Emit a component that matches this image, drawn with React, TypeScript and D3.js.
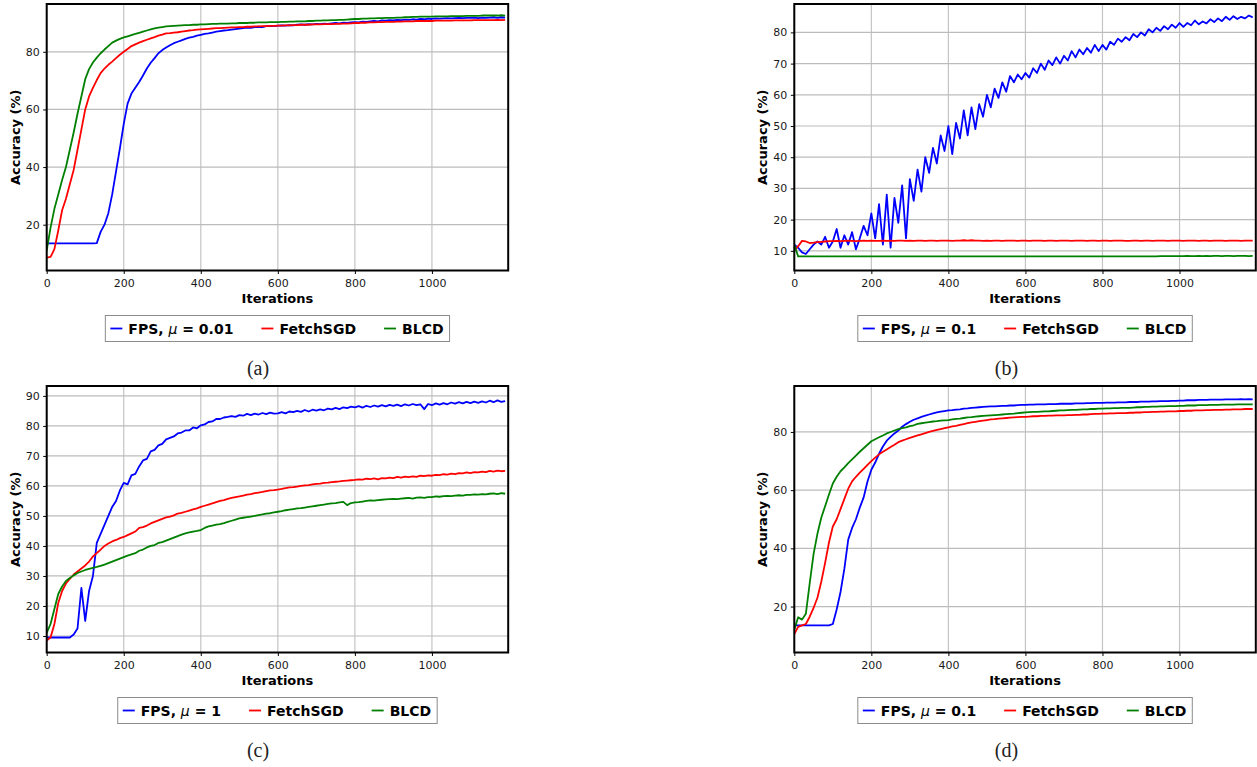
import React, { useEffect, useRef } from "react";
import * as d3 from "d3";

// one value every 10 iterations, starting at 0
const STEP = 10;
const X_TICKS = [0, 200, 400, 600, 800, 1000];

// (a) FPS mu = 0.01
const aFps = [
  13.5, 13.5, 13.5, 13.5, 13.5, 13.5, 13.5, 13.5, 13.5, 13.5,
  13.5, 13.5, 13.5, 13.6, 17.5, 20, 24, 30.5, 38.5, 46.5,
  55, 62, 65.5, 67.5, 69.5, 71.8, 74.2, 76.2, 77.8, 79.5,
  80.6, 81.5, 82.3, 83, 83.5, 84, 84.5, 84.9, 85.2, 85.6,
  85.9, 86.2, 86.4, 86.7, 87, 87.2, 87.4, 87.5, 87.7, 87.9,
  88.1, 88.2, 88.4, 88.3, 88.6, 88.7, 88.6, 88.9, 89, 88.9,
  89.1, 89.2, 89.1, 89.3, 89.2, 89.4, 89.5, 89.4, 89.6, 89.5,
  89.7, 89.6, 89.8, 89.7, 89.9, 90, 89.9, 90.1, 90, 90.2,
  90.3, 90.2, 90.5, 90.4, 90.6, 90.7, 90.6, 90.9, 90.8, 91,
  90.9, 91.1, 91, 91.2, 91.1, 91.3, 91.2, 91.4, 91.3, 91.5,
  91.4, 91.6, 91.5, 91.6, 91.7, 91.6, 91.7, 91.8, 91.7, 91.8,
  91.8, 91.9, 91.7, 91.9, 91.8, 91.9, 92, 91.8, 92, 91.9,
];
const aFetch = [
  8.6, 8.8, 11.5, 18, 25, 29, 34, 39, 46, 53,
  60, 64.5, 67.5, 70.2, 72.6, 74.2, 75.5, 76.6, 77.8, 79,
  80, 81, 82, 82.6, 83.2, 83.7, 84.2, 84.7, 85.1, 85.6,
  86, 86.4, 86.5, 86.7, 86.8, 87, 87.2, 87.4, 87.5, 87.7,
  87.8, 87.9, 88, 88.1, 88.2, 88.2, 88.3, 88.4, 88.5, 88.5,
  88.6, 88.6, 88.7, 88.7, 88.8, 88.8, 88.9, 88.9, 89, 89,
  89.1, 89.1, 89.2, 89.2, 89.3, 89.3, 89.4, 89.4, 89.4, 89.5,
  89.5, 89.5, 89.6, 89.6, 89.6, 89.7, 89.7, 89.8, 89.8, 89.9,
  90, 90, 90.1, 90.1, 90.2, 90.2, 90.3, 90.3, 90.4, 90.4,
  90.4, 90.5, 90.5, 90.6, 90.6, 90.6, 90.7, 90.7, 90.7, 90.7,
  90.7, 90.8, 90.8, 90.8, 90.8, 90.8, 90.9, 90.9, 90.9, 90.9,
  90.9, 91, 91, 91, 91, 91, 91, 91.1, 91, 91.1,
];
const aBlcd = [
  11, 19, 25.5, 30.5, 35.5, 40, 46, 52, 58.5, 64.5,
  70.5, 74, 76.3, 78, 79.5, 80.8, 82, 83.2, 83.9, 84.5,
  85, 85.4, 85.8, 86.2, 86.6, 87, 87.4, 87.8, 88.1, 88.4,
  88.6, 88.8, 88.9, 89, 89.1, 89.2, 89.3, 89.3, 89.4, 89.4,
  89.5, 89.5, 89.6, 89.7, 89.7, 89.8, 89.8, 89.8, 89.9, 89.9,
  90, 90, 90, 90.1, 90.1, 90.2, 90.2, 90.2, 90.3, 90.3,
  90.3, 90.4, 90.4, 90.5, 90.5, 90.6, 90.6, 90.6, 90.7, 90.7,
  90.8, 90.8, 90.9, 90.9, 91, 91, 91.1, 91.1, 91.2, 91.3,
  91.4, 91.4, 91.5, 91.5, 91.6, 91.6, 91.7, 91.7, 91.8, 91.8,
  91.8, 91.9, 91.9, 92, 92, 92.1, 92.1, 92.2, 92.2, 92.2,
  92.2, 92.3, 92.3, 92.3, 92.3, 92.4, 92.4, 92.4, 92.4, 92.5,
  92.5, 92.5, 92.5, 92.6, 92.6, 92.6, 92.6, 92.6, 92.7, 92.6,
];

// (b) FPS mu = 0.1
const bFps = [
  12, 11, 9.5, 9, 10.5, 12, 13, 12, 14.5, 11,
  13, 17, 11, 15, 12, 16, 10.5, 14, 18, 15,
  22, 14, 25, 12, 28, 11, 27, 19, 31, 14,
  33, 26, 36, 29, 40, 35, 43, 38, 47, 42,
  50, 41, 51, 46, 55, 47, 56, 49, 57, 53,
  60, 56, 62, 59, 64, 61, 66, 64, 66.5, 65,
  67, 65.5, 68.5, 67, 70, 68, 71, 69.5, 72, 70,
  72.5, 71, 74, 72, 74.5, 73, 75, 73.5, 76, 74,
  76, 74.5, 77, 76, 78, 77, 78.5, 77.5, 79.5, 78.5,
  80, 79, 81, 80, 81.5, 80.5, 82, 81, 82.5, 81.5,
  83, 81.8, 83, 82.3, 83.8, 82.6, 83.5, 82.9, 84.2, 83.3,
  84.5, 83.6, 85, 84, 85.2, 84.3, 85, 84.5, 85.4, 84.8,
];
const bFetch = [
  10, 11.5, 13.2, 13, 12.5, 12.6, 12.8, 12.9, 13, 13.1,
  13.1, 13.2, 13.1, 13.2, 13.3, 13.2, 13.1, 13.2, 13.3, 13.2,
  13.3, 13.2, 13.2, 13.3, 13.2, 13.3, 13.2, 13.3, 13.3, 13.2,
  13.3, 13.2, 13.3, 13.3, 13.2, 13.3, 13.3, 13.2, 13.3, 13.3,
  13.3, 13.2, 13.3, 13.3, 13.4, 13.3, 13.4, 13.3, 13.3, 13.2,
  13.3, 13.2, 13.3, 13.3, 13.2, 13.3, 13.3, 13.3, 13.2, 13.3,
  13.3, 13.2, 13.3, 13.3, 13.3, 13.2, 13.3, 13.3, 13.2, 13.3,
  13.3, 13.3, 13.2, 13.3, 13.3, 13.3, 13.2, 13.3, 13.3, 13.2,
  13.3, 13.3, 13.2, 13.3, 13.3, 13.3, 13.2, 13.2, 13.3, 13.3,
  13.2, 13.3, 13.3, 13.2, 13.3, 13.3, 13.3, 13.2, 13.3, 13.3,
  13.3, 13.2, 13.3, 13.3, 13.3, 13.2, 13.3, 13.3, 13.2, 13.3,
  13.3, 13.3, 13.2, 13.3, 13.3, 13.3, 13.2, 13.3, 13.3, 13.3,
];
const bBlcd = [
  12, 8.2, 8.2, 8.2, 8.2, 8.2, 8.2, 8.2, 8.2, 8.2,
  8.2, 8.2, 8.2, 8.2, 8.2, 8.2, 8.2, 8.2, 8.2, 8.2,
  8.2, 8.2, 8.2, 8.2, 8.2, 8.2, 8.2, 8.2, 8.2, 8.2,
  8.2, 8.2, 8.2, 8.2, 8.2, 8.2, 8.2, 8.2, 8.2, 8.2,
  8.2, 8.2, 8.2, 8.2, 8.2, 8.2, 8.2, 8.2, 8.2, 8.2,
  8.2, 8.2, 8.2, 8.2, 8.2, 8.2, 8.2, 8.2, 8.2, 8.2,
  8.2, 8.2, 8.2, 8.2, 8.2, 8.2, 8.2, 8.2, 8.2, 8.2,
  8.2, 8.2, 8.2, 8.2, 8.2, 8.2, 8.2, 8.2, 8.2, 8.2,
  8.2, 8.2, 8.2, 8.2, 8.2, 8.2, 8.2, 8.2, 8.2, 8.2,
  8.2, 8.2, 8.2, 8.2, 8.2, 8.3, 8.3, 8.3, 8.3, 8.3,
  8.3, 8.3, 8.4, 8.3, 8.3, 8.4, 8.3, 8.4, 8.3, 8.4,
  8.4, 8.3, 8.4, 8.4, 8.3, 8.4, 8.4, 8.4, 8.3, 8.4,
];

// (c) FPS mu = 1
const cFps = [
  9.5, 9.5, 9.5, 9.5, 9.5, 9.5, 9.5, 10.5, 12.5, 26,
  15, 25, 30, 41, 44, 47, 50, 53, 55, 58.5,
  61, 60.5, 63.5, 64, 66.5, 68.5, 69, 71.5, 72, 73.5,
  74, 75.5, 76, 76.5, 77.5, 77.8, 78.5, 78.5, 79.5, 79.2,
  80.2, 80.5, 81.3, 81.5, 82.3, 82.3, 82.8, 83, 83.3, 83,
  83.6, 83.4, 84, 83.6, 84.1, 83.8, 84.3, 83.9, 84.4, 84.1,
  84.2, 84.6, 84.2, 84.8, 84.6, 85, 84.7, 85.3, 84.8, 85.4,
  85.1, 85.5, 85.2, 85.8, 85.5, 86, 85.6, 86.2, 85.9, 86.4,
  86.2, 86.6, 86.1, 86.7, 86.3, 86.8, 86.4, 86.9, 86.5, 87,
  86.7, 87.1, 86.6, 87.2, 86.8, 87.3, 86.9, 87.2, 85.6, 87.3,
  86.9, 87.5, 87.1, 87.6, 87.2, 87.8, 87.4, 87.9, 87.5, 88,
  87.6, 88.1, 87.7, 88.2, 87.8, 88.4, 87.9, 88.5, 88, 88.3,
];
const cFetch = [
  8.5, 9.5, 14, 21, 25, 27.5, 29, 30.5, 31.5, 32.5,
  33.5, 34.8, 36.5, 37.6, 38.8, 40, 40.8, 41.5, 42, 42.6,
  43, 43.6, 44.2, 44.8, 46, 46.3, 46.8, 47.5, 48, 48.5,
  49, 49.5, 49.8, 50.2, 50.8, 51, 51.4, 51.8, 52.2, 52.5,
  53, 53.4, 53.8, 54.2, 54.6, 55, 55.3, 55.7, 56, 56.3,
  56.5, 56.8, 57.1, 57.3, 57.6, 57.8, 58, 58.3, 58.5, 58.6,
  58.8, 59, 59.3, 59.5, 59.6, 59.8, 60, 60.2, 60.3, 60.5,
  60.7, 60.8, 61, 61.1, 61.3, 61.4, 61.5, 61.7, 61.8, 61.9,
  62, 62.2, 62.1, 62.4, 62.3, 62.5, 62.2, 62.6, 62.5, 62.8,
  62.6, 63, 62.8, 63.1, 62.9, 63.2, 63, 63.4, 63.3, 63.5,
  63.4, 63.7, 63.6, 63.9, 63.8, 64.1, 63.9, 64.3, 64.2, 64.5,
  64.3, 64.6, 64.5, 64.8, 64.6, 65, 64.8, 65.1, 64.9, 65,
];
const cBlcd = [
  11, 14, 19, 24, 26.5, 28.3, 29.3, 30.2, 31, 31.5,
  32, 32.4, 32.7, 33, 33.4, 33.8, 34.3, 34.8, 35.3, 35.8,
  36.3, 36.8, 37.2, 37.6, 38.4, 38.8, 39.5, 40, 40.3, 41,
  41.3, 41.8, 42.3, 42.8, 43.3, 43.8, 44.2, 44.5, 44.8, 45,
  45.3, 46, 46.5, 46.8, 47.1, 47.3, 47.6, 48, 48.4, 48.8,
  49.2, 49.4, 49.6, 49.8, 50, 50.3, 50.5, 50.8, 50.9, 51.2,
  51.4, 51.6, 51.9, 52.1, 52.3, 52.5, 52.6, 52.8, 53, 53.2,
  53.4, 53.6, 53.8, 54, 54.2, 54.3, 54.5, 54.7, 53.6, 54.3,
  54.5, 54.6, 54.8, 55, 55.2, 55.1, 55.3, 55.4, 55.5, 55.6,
  55.7, 55.6, 55.8, 55.9, 56, 55.8, 56.1, 56.2, 56, 56.3,
  56.3, 56.5, 56.4, 56.6, 56.7, 56.6, 56.8, 56.9, 56.8, 57,
  57, 57.2, 57.1, 57.3, 57.2, 57.4, 57.5, 57.3, 57.6, 57.4,
];

// (d) FPS mu = 0.1
const dFps = [
  13.5, 13.5, 13.5, 13.5, 13.5, 13.5, 13.5, 13.5, 13.5, 13.5,
  14, 19, 25, 33, 43, 47, 50, 54, 57.5, 63,
  67, 69.5, 72.5, 75, 77, 78.3, 79.5, 80.5, 81.8, 82.7,
  83.5, 84.2, 84.7, 85.2, 85.6, 86, 86.4, 86.7, 87, 87.2,
  87.4, 87.5, 87.7, 87.8, 88, 88.1, 88.3, 88.4, 88.5, 88.6,
  88.7, 88.8, 88.8, 88.9, 89, 89, 89.1, 89.1, 89.2, 89.3,
  89.3, 89.4, 89.4, 89.5, 89.5, 89.5, 89.6, 89.6, 89.6, 89.7,
  89.7, 89.7, 89.7, 89.8, 89.8, 89.8, 89.9, 89.9, 90, 90,
  90, 90.1, 90.1, 90.1, 90.2, 90.2, 90.2, 90.3, 90.3, 90.3,
  90.4, 90.4, 90.4, 90.5, 90.5, 90.6, 90.6, 90.6, 90.7, 90.7,
  90.8, 90.8, 90.9, 90.9, 90.9, 91, 91, 91, 91.1, 91.1,
  91.1, 91.1, 91.2, 91.2, 91.2, 91.2, 91.3, 91.2, 91.3, 91.2,
];
const dFetch = [
  10.5, 13, 13.5, 14, 16.5, 19.5, 23, 28.5, 35, 42,
  47.5, 50, 53.5, 57, 60.5, 63, 64.6, 66, 67.3, 68.7,
  70, 71.2, 72.3, 73.2, 74, 74.8, 75.6, 76.5, 77, 77.5,
  78, 78.4, 78.8, 79.2, 79.6, 80, 80.4, 80.7, 81, 81.3,
  81.6, 81.9, 82.1, 82.4, 82.7, 83, 83.3, 83.5, 83.7, 83.9,
  84.1, 84.3, 84.4, 84.6, 84.7, 84.8, 84.9, 85, 85.1, 85.2,
  85.2, 85.3, 85.4, 85.4, 85.5, 85.5, 85.6, 85.6, 85.7, 85.7,
  85.7, 85.8, 85.8, 85.9, 85.9, 86, 86, 86.1, 86.2, 86.2,
  86.3, 86.3, 86.4, 86.4, 86.5, 86.5, 86.5, 86.6, 86.6, 86.7,
  86.7, 86.8, 86.8, 86.9, 86.9, 87, 87, 87.1, 87.1, 87.1,
  87.2, 87.2, 87.3, 87.3, 87.4, 87.4, 87.4, 87.5, 87.5, 87.6,
  87.6, 87.6, 87.7, 87.7, 87.8, 87.8, 87.8, 87.9, 87.9, 87.9,
];
const dBlcd = [
  12, 16.3, 15.5, 17.5, 28, 38, 45, 50.5, 54.5, 58.5,
  62.3, 64.6, 66.5, 67.8, 69.3, 70.6, 71.9, 73.2, 74.4, 75.6,
  76.8, 77.5, 78.2, 78.8, 79.5, 80, 80.5, 81, 81.3, 81.6,
  82, 82.3, 82.8, 83, 83.2, 83.4, 83.6, 83.7, 83.9, 84,
  84.1, 84.3, 84.5, 84.6, 84.8, 85, 85.1, 85.3, 85.4, 85.5,
  85.6, 85.7, 85.8, 85.9, 86, 86.1, 86.2, 86.3, 86.5, 86.6,
  86.7, 86.8, 86.9, 86.9, 87, 87.1, 87.1, 87.2, 87.3, 87.4,
  87.4, 87.5, 87.6, 87.6, 87.7, 87.8, 87.8, 87.9, 87.9, 88,
  88, 88.1, 88.1, 88.2, 88.2, 88.3, 88.3, 88.3, 88.4, 88.5,
  88.5, 88.6, 88.6, 88.7, 88.7, 88.8, 88.8, 88.9, 88.9, 88.9,
  89, 89, 89.1, 89.1, 89.1, 89.2, 89.2, 89.2, 89.3, 89.3,
  89.3, 89.4, 89.4, 89.4, 89.4, 89.5, 89.5, 89.5, 89.5, 89.5,
];

const seriesNames = ["FetchSGD", "BLCD"];
const colors = ["#0000ff", "#ff0000", "#008000"];

const panels = [
  { left: 46.7, top: 4, yDomain: [4.1, 96.6], yTicks: [20, 40, 60, 80], mu: "0.01", data: [aFps, aFetch, aBlcd], caption: "(a)", capX: 258 },
  { left: 794.3, top: 4, yDomain: [3.7, 89.1], yTicks: [10, 20, 30, 40, 50, 60, 70, 80], mu: "0.1", data: [bFps, bFetch, bBlcd], caption: "(b)", capX: 1006.5 },
  { left: 46.7, top: 386, yDomain: [4.5, 93.3], yTicks: [10, 20, 30, 40, 50, 60, 70, 80, 90], mu: "1", data: [cFps, cFetch, cBlcd], caption: "(c)", capX: 258 },
  { left: 794.3, top: 386, yDomain: [4.2, 95.8], yTicks: [20, 40, 60, 80], mu: "0.1", data: [dFps, dFetch, dBlcd], caption: "(d)", capX: 1006.5 },
];

const PW = 461.5;
const PH = 266.5;
const X_MAX = 1198;
const SANS = "'DejaVu Sans', sans-serif";

export default function App() {
  const ref = useRef<SVGSVGElement>(null);

  useEffect(() => {
    const svg = d3.select(ref.current);
    svg.selectAll("*").remove();

    panels.forEach((p, pi) => {
      const g = svg.append("g");
      const x = d3.scaleLinear().domain([0, X_MAX]).range([p.left, p.left + PW]);
      const y = d3.scaleLinear().domain(p.yDomain).range([p.top + PH, p.top]);
      const bottom = p.top + PH;

      // grid
      g.append("g")
        .selectAll("line")
        .data(X_TICKS)
        .join("line")
        .attr("x1", d => x(d)).attr("x2", d => x(d))
        .attr("y1", p.top).attr("y2", bottom)
        .attr("stroke", "#c4c4c4").attr("stroke-width", 1.2);
      g.append("g")
        .selectAll("line")
        .data(p.yTicks)
        .join("line")
        .attr("x1", p.left).attr("x2", p.left + PW)
        .attr("y1", d => y(d)).attr("y2", d => y(d))
        .attr("stroke", "#bcbcbc").attr("stroke-width", 1.2);

      // clip
      const clipId = `clip-${pi}`;
      g.append("clipPath").attr("id", clipId)
        .append("rect")
        .attr("x", p.left).attr("y", p.top).attr("width", PW).attr("height", PH);

      const line = d3.line<number>()
        .x((_, i) => x(i * STEP))
        .y(d => y(d));

      g.append("g")
        .attr("clip-path", `url(#${clipId})`)
        .selectAll("path")
        .data(p.data)
        .join("path")
        .attr("d", d => line(d))
        .attr("fill", "none")
        .attr("stroke", (_, i) => colors[i])
        .attr("stroke-width", 1.8)
        .attr("stroke-linejoin", "round");

      // axes
      g.append("g")
        .attr("transform", `translate(0,${bottom})`)
        .call(d3.axisBottom(x).tickValues(X_TICKS).tickFormat(d3.format("d")).tickSize(3.5).tickPadding(5.5))
        .call(a => a.select(".domain").remove())
        .call(a => a.selectAll("text").attr("font-family", SANS).attr("font-size", 11).attr("fill", "#1a1a1a"));
      g.append("g")
        .attr("transform", `translate(${p.left},0)`)
        .call(d3.axisLeft(y).tickValues(p.yTicks).tickSize(3.5).tickPadding(3.5))
        .call(a => a.select(".domain").remove())
        .call(a => a.selectAll("text").attr("font-family", SANS).attr("font-size", 11).attr("fill", "#1a1a1a"));

      // frame
      g.append("rect")
        .attr("x", p.left).attr("y", p.top).attr("width", PW).attr("height", PH)
        .attr("fill", "none").attr("stroke", "#000").attr("stroke-width", 2);

      // axis titles
      g.append("text")
        .attr("x", p.left + PW / 2).attr("y", bottom + 32)
        .attr("text-anchor", "middle")
        .attr("font-family", SANS).attr("font-size", 13).attr("font-weight", "bold")
        .text("Iterations");
      g.append("text")
        .attr("transform", `translate(${p.left - 27},${p.top + PH / 2}) rotate(-90)`)
        .attr("text-anchor", "middle")
        .attr("font-family", SANS).attr("font-size", 13).attr("font-weight", "bold")
        .text("Accuracy (%)");

      // legend
      const lg = g.append("g");
      const box = lg.append("rect");
      const ly = bottom + 45;
      let cursor = 0;
      let lastEnd = 0;
      for (let k = 0; k < 3; k++) {
        lg.append("line")
          .attr("x1", cursor + 5).attr("x2", cursor + 17)
          .attr("y1", ly + 13).attr("y2", ly + 13)
          .attr("stroke", colors[k]).attr("stroke-width", 1.8);
        const t = lg.append("text")
          .attr("x", cursor + 23).attr("y", ly + 18)
          .attr("font-family", SANS).attr("font-size", 14).attr("font-weight", "bold")
          .attr("fill", "#000");
        if (k === 0) {
          t.append("tspan").text("FPS, ");
          t.append("tspan").attr("font-style", "italic").attr("font-weight", "normal").text("μ");
          t.append("tspan").text(` = ${p.mu}`);
        } else {
          t.text(seriesNames[k - 1]);
        }
        const w = (t.node() as SVGTextElement).getComputedTextLength();
        lastEnd = cursor + 23 + w;
        cursor = lastEnd + 23;
      }
      const lw = lastEnd + 6;
      box.attr("x", 0).attr("y", ly).attr("width", lw).attr("height", 26)
        .attr("fill", "#fff").attr("stroke", "#8c8c8c").attr("stroke-width", 1);
      lg.attr("transform", `translate(${p.left + PW / 2 - lw / 2},0)`);

      // caption
      g.append("text")
        .attr("x", p.capX).attr("y", bottom + 104)
        .attr("text-anchor", "middle")
        .attr("font-family", "'Liberation Serif', serif").attr("font-size", 20)
        .attr("fill", "#222")
        .text(p.caption);
    });
  }, []);

  return (
    <svg
      ref={ref}
      width={1257}
      height={767}
      style={{ position: "absolute", left: 0, top: 0, background: "#fff" }}
    />
  );
}
